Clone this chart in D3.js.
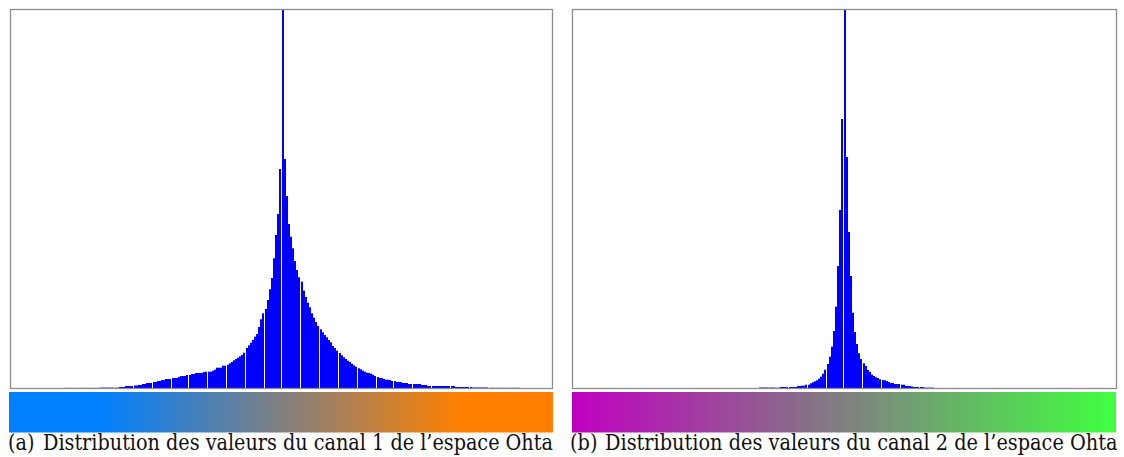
<!DOCTYPE html>
<html>
<head>
<meta charset="utf-8">
<script src="https://cdn.jsdelivr.net/npm/d3@7"></script>
<style>
  html, body { margin: 0; padding: 0; background: #fff; }
  svg { display: block; }
</style>
</head>
<body>
<svg id="chart" width="1124" height="457"></svg>
<script>
// Histograms of the two Ohta chromatic channels (256 bins each).
const binCount = 256;

// Channel 1: first non-empty bin and the bin heights from there on.
const canal1Start = 25;
const canal1Values = [
  0.15, 0.15, 0.15, 0.15, 0.15, 0.15, 0.15, 0.15, 0.15, 0.15, 0.15, 0.15, 0.15, 0.15, 0.15, 0.15, 0.15,
  0.4, 0.4, 0.4, 0.4, 0.4, 0.4, 0.4, 0.4, 0.4,
  1, 1, 1,
  2, 2, 2, 2, 2.5, 2.5, 3, 3, 4, 4,
  5, 5, 5, 6, 6, 7, 7, 8, 8, 9, 9, 9,
  10, 10, 10, 11, 12, 12, 12, 13, 13, 14, 14,
  15, 15, 15, 15, 16, 16.3, 16.3, 16.3, 17.3, 18.3,
  20.3, 20.3, 20.3, 22.3, 22.3, 23.3, 24.7, 26, 27.7, 29,
  30.3, 31.7, 33, 35.3, 40, 42.7, 45.3, 48, 51.3, 54,
  61, 68.7, 74.7, 79, 88, 98.7, 110, 129.7, 153, 174, 219,
  378,
  229, 192, 164, 151.3, 139.7, 127, 118, 110.7, 106.3, 97.3,
  91, 85.3, 80.7, 74.7, 70.3, 66, 62, 58.7, 55.7, 53,
  50.7, 48, 45.7, 42, 40, 37.3, 35, 32.7, 30.7, 29,
  27.3, 26, 24.3, 22.7, 21.3, 19.7, 18.7, 17.3, 16.3, 15.3,
  15, 14.3, 13.3, 12, 11, 10, 10, 9, 8.3, 8.3,
  8, 7, 7, 6, 6, 6, 5, 5, 5,
  4, 4, 4, 4, 4, 4, 3, 3, 3,
  2, 2, 2, 2, 2, 2, 2, 2, 2, 2, 2, 2, 2,
  1, 1, 1, 1, 1, 1, 1, 1,
  0.5, 0.5, 0.5, 0.5, 0.5, 0.5, 0.5, 0.5,
  0.2, 0.2, 0.2, 0.2, 0.2, 0.2, 0.2, 0.2, 0.2, 0.2, 0.2, 0.2, 0.2, 0.2, 0.2
];

// Channel 2: first non-empty bin and the bin heights from there on.
const canal2Start = 88;
const canal2Values = [
  0.5, 0.5, 0.5, 0.5, 0.5, 0.5, 0.5,
  0.3, 0.3, 0.3,
  1, 1, 1, 1, 1, 1, 1, 1,
  2, 2, 2.3, 2.3, 3.3, 3.3,
  4.7, 5.7, 6.7, 7.7, 9.3, 11.3, 14.3, 18.3, 24,
  31.3, 41.3, 57, 81.3, 122, 178, 269,
  378,
  231, 156, 112, 75.3, 56, 44, 34.7, 29, 24.7, 22,
  18, 16, 13.3, 12, 10.7, 10, 8.7, 8, 7.7, 7,
  6, 5, 5, 4, 4, 4, 3.3, 3.3, 2, 2, 2, 1.5,
  1, 1, 1, 1, 1,
  0.4, 0.4, 0.4, 0.4, 0.4
];

// Value range shown by each colour strip (channel units).
const canal1Range = [-192, 192];
const canal2Range = [-128, 128];

const captionLabels = ["(a)", "(b)"];
const captionTexts = [
  "Distribution des valeurs du canal 1 de l\u2019espace Ohta",
  "Distribution des valeurs du canal 2 de l\u2019espace Ohta"
];

const clamp = v => Math.max(0, Math.min(255, Math.round(v)));
// Colour of a channel value with the other two Ohta channels held at mid level.
const canal1Colour = v => d3.rgb(clamp(128 + v), 128, clamp(128 - v));
const canal2Colour = v => d3.rgb(clamp(128 - v / 2), clamp(128 + v), clamp(128 - v / 2));

function fullBins(start, values) {
  return d3.range(binCount).map(i => {
    const k = i - start;
    return { bin: i, value: (k >= 0 && k < values.length) ? values[k] : 0 };
  });
}

const panels = [
  { frameX: 10, frameW: 542, bins: fullBins(canal1Start, canal1Values),
    stripX: 9, stripW: 544, range: canal1Range, colour: canal1Colour,
    label: captionLabels[0], text: captionTexts[0], textX: 8, textEnd: 553 },
  { frameX: 572, frameW: 544, bins: fullBins(canal2Start, canal2Values),
    stripX: 572, stripW: 544, range: canal2Range, colour: canal2Colour,
    label: captionLabels[1], text: captionTexts[1], textX: 570, textEnd: 1118 }
];

const svg = d3.select("#chart");
const defs = svg.append("defs");
const plotTop = 10, plotBottom = 388;
const stripTop = 392, stripH = 40.5;
const captionY = 450;
const captionFont = "'DejaVu Serif Condensed', 'Liberation Serif', serif";

panels.forEach((p, idx) => {
  const g = svg.append("g");
  const peak = d3.max(p.bins, d => d.value);

  const x = d3.scaleLinear().domain([0, binCount]).range([p.frameX + 1, p.frameX + 1 + 541]);
  const y = d3.scaleLinear().domain([0, peak]).range([plotBottom, plotTop]);
  const barW = Math.floor(x(1) - x(0));

  g.append("g")
    .selectAll("rect")
    .data(p.bins.filter(d => d.value > 0))
    .join("rect")
      .attr("x", d => Math.round(x(d.bin)))
      .attr("width", barW)
      .attr("y", d => y(d.value))
      .attr("height", d => y(0) - y(d.value))
      .attr("fill", "#0000ff");

  // plot frame
  g.append("rect")
    .attr("x", p.frameX + 0.5)
    .attr("y", plotTop - 0.5)
    .attr("width", p.frameW)
    .attr("height", plotBottom - plotTop + 1)
    .attr("fill", "none")
    .attr("stroke", "#8c8c8c")
    .attr("stroke-width", 1.3);

  // colour strip
  const gradId = "strip" + idx;
  const stops = d3.range(0, 1.0001, 1 / 96);
  const valueAt = d3.scaleLinear().domain([0, 1]).range(p.range);
  defs.append("linearGradient")
      .attr("id", gradId)
      .attr("x1", "0%").attr("x2", "100%").attr("y1", "0%").attr("y2", "0%")
    .selectAll("stop")
    .data(stops)
    .join("stop")
      .attr("offset", t => (t * 100) + "%")
      .attr("stop-color", t => p.colour(valueAt(t)).formatHex());

  g.append("rect")
    .attr("x", p.stripX)
    .attr("y", stripTop)
    .attr("width", p.stripW)
    .attr("height", stripH)
    .attr("fill", `url(#${gradId})`);

  // caption: label, then the description stretched to the panel's right edge
  const cap = g.append("g").attr("font-family", captionFont).attr("fill", "#111");
  const lab = cap.append("text")
    .attr("x", p.textX).attr("y", captionY)
    .attr("font-size", 19)
    .text(p.label);
  const descX = p.textX + 35;
  const desc = cap.append("text")
    .attr("x", descX).attr("y", captionY)
    .attr("font-size", 19)
    .text(p.text);
  const w = desc.node().getComputedTextLength();
  const fs = 19 * (p.textEnd - descX) / w;
  desc.attr("font-size", fs);
  lab.attr("font-size", fs);
});
</script>
</body>
</html>
